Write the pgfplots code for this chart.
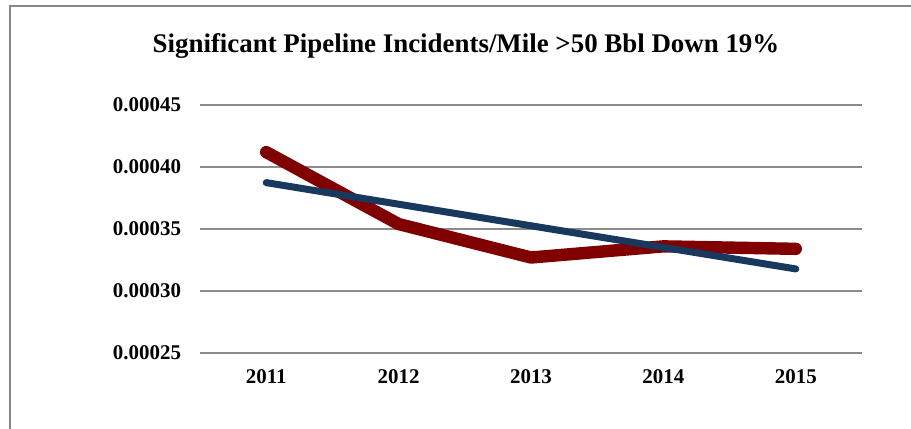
\documentclass[border=0pt]{standalone}
\usepackage{pgfplots}
\pgfplotsset{compat=1.18}
\usepackage{fontspec}
\setmainfont{Liberation Serif}
\definecolor{frameg}{RGB}{136,136,136}
\definecolor{gridg}{RGB}{140,140,140}
\definecolor{darkred}{RGB}{128,0,0}
\definecolor{navy}{RGB}{24,56,94}
\begin{document}
\begin{tikzpicture}
\useasboundingbox (0,0) rectangle (455.5bp,214.5bp);
\draw[frameg, line width=1bp] (5bp,0) -- (5bp,211.5bp) -- (456bp,211.5bp);
\node[font=\bfseries\fontsize{13.5}{16}\selectfont] at (233bp,191.5bp) {Significant Pipeline Incidents/Mile >50 Bbl Down 19\%};
\begin{axis}[
  scale only axis,
  width=331bp, height=124bp,
  at={(100bp,38bp)}, anchor=south west,
  xmin=0.5, xmax=5.5,
  ymin=0.00025, ymax=0.00045,
  xtick={1,2,3,4,5},
  xticklabels={2011,2012,2013,2014,2015},
  ytick={0.00025,0.0003,0.00035,0.0004,0.00045},
  scaled y ticks=false,
  /pgf/number format/fixed,
  /pgf/number format/fixed zerofill,
  /pgf/number format/precision=5,
  /pgf/number format/assume math mode=true,
  ticklabel style={font=\bfseries\fontsize{10.5}{12}\selectfont},
  yticklabel style={anchor=east, xshift=-6bp},
  xticklabel style={anchor=north, yshift=-5bp},
  axis line style={draw=none},
  tick style={draw=none},
  ymajorgrids,
  grid style={gridg, line width=1bp},
  clip=false,
]
\addplot[darkred, line width=6.2bp, line cap=round, line join=round] coordinates {
  (1,0.000412) (2,0.000354) (3,0.000327) (4,0.000336) (5,0.000334)
};
\addplot[navy, line width=3.5bp, line cap=round] coordinates {
  (1,0.0003874) (2,0.0003700) (3,0.0003526) (4,0.0003352) (5,0.0003178)
};
\end{axis}
\end{tikzpicture}
\end{document}
